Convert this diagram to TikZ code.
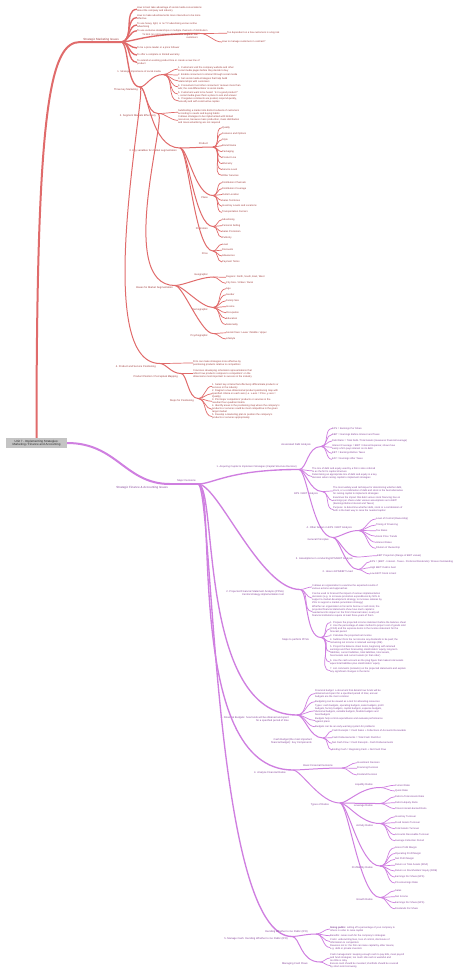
\documentclass[tikz,border=0pt]{standalone}
\usepackage{fontspec}
\setmainfont{Liberation Sans}
\definecolor{rl}{HTML}{E06B6B}
\definecolor{rt}{HTML}{9E3C3C}
\definecolor{pl}{HTML}{CF7FE0}
\definecolor{ptx}{HTML}{86469A}
\definecolor{rootfill}{HTML}{C4C4C4}
\newcommand\fnA{\fontsize{3}{3.5}\selectfont}
\newcommand\fnB{\fontsize{2.6}{3.1}\selectfont}
\newcommand\fnC{\fontsize{2.5}{3}\selectfont}
\def\tc{rt}\def\lc{rl}
\tikzset{
 leaf/.style={anchor=west,inner sep=0pt,font=\fnC,align=left,text=\tc},
 inl/.style={anchor=east,inner sep=0pt,font=\fnB,align=right,text=\tc},
 l0/.style={draw=\lc,line width=2pt},
 l1/.style={draw=\lc,line width=1.35pt},
 l2/.style={draw=\lc,line width=1pt},
 l3/.style={draw=\lc,line width=0.7pt},
}
\newcommand\lfx[6][l3]{\node[leaf] (#2) at (#4,#5) {#6};\draw[#1] (#3) to[out=0,in=180] (#2.west);}
\begin{document}
\begin{tikzpicture}[x=1pt,y=-1pt]
\useasboundingbox (0,0) rectangle (474,975);
\node[fill=rootfill,inner sep=0pt,minimum width=61pt,minimum height=10pt,font=\fnA,align=center,text=black!85] (root) at (36.5,443) {Unit 7 - Implementing Strategies:\\Marketing / Finance and Accounting};
% ================= RED =================
\coordinate (SMIs) at (80,42);
\coordinate (SMI) at (121,42);
\draw[l0] (root.north) .. controls +(0,-330) and +(-30,0) .. (SMIs) -- (SMI);
\node[inl,font=\fnA] (tSMI) at (119,40) {Strategic Marketing Issues};
\lfx[l1]{a1}{SMI}{137}{9.3}{How to best take advantage of social media conversations\\about the company and industry}
\lfx[l1]{a2}{SMI}{137}{17.5}{How to make advertisements more interactive to be more\\effective}
\lfx[l1]{a3}{SMI}{137}{25}{To use heavy, light, or no TV advertising versus online\\advertising}
\lfx[l1]{a4}{SMI}{137}{30.8}{To use exclusive dealerships or multiple channels of distribution}
\coordinate (A5) at (200,33.5);
\draw[l1] (SMI) .. controls +(12,0) and +(-55,0) .. (A5);
\node[inl,font=\fnC] (tA5) at (198,36.2) {To limit (or not) business done with a single or few\\customers};
\lfx{a5a}{A5}{227}{33.3}{Too dependent on a few customers is a big risk}
\lfx{a5b}{A5}{222}{42}{How to manage customers in contract?}
\lfx[l1]{a6}{SMI}{137}{48}{To be a price leader or a price follower}
\lfx[l1]{a7}{SMI}{137}{55}{To offer a complete or limited warranty}
\lfx[l1]{a8}{SMI}{137}{62.3}{To extend an existing product line or create a new line of\\product}
% Three key marketing
\coordinate (TKM) at (140,87);
\draw[l1] (SMI) .. controls +(8,0) and +(-14,0) .. (TKM);
\node[inl] (tTKM) at (138,89.5) {Three key Marketing};
% 1 social media
\coordinate (S1) at (163,74.5);
\draw[l2] (TKM) .. controls +(6,0) and +(-12,0) .. (S1);
\node[inl,font=\fnC] (tS1) at (161,72.2) {1. Strategic Importance of social media};
\lfx{s1}{S1}{178}{69}{1. Customers visit the company website and other\\social media pages before they decide to buy}
\lfx{s2}{S1}{178}{75}{2. Enable consumers to interact through social media}
\lfx{s3}{S1}{178}{80.8}{3. Set social media strategies that help build\\relationships with customers}
\lfx{s4}{S1}{178}{86.8}{4. Consumers trust other consumers' reviews more than\\ads; the real differentiator is social media}
\lfx{s5}{S1}{178}{94}{5. Customers want to be heard: `Is it a good product?'\\-- social media gives them a place to ask and answer}
\lfx{s6}{S1}{178}{100.8}{6. If negative comments are posted, respond quickly,\\honestly and with constructive replies}
% 2 segment
\coordinate (M2) at (158,113.5);
\draw[l2] (TKM) .. controls +(6,0) and +(-12,0) .. (M2);
\node[inl] (tM2) at (156,116.2) {2. Segment Markets Effectively};
\lfx{m1}{M2}{178}{112.3}{Subdividing a market into distinct subsets of customers\\according to needs and buying habits}
\lfx{m2}{M2}{178}{120.3}{It allows strategies to be implemented with limited\\resources, because mass production, mass distribution\\and mass advertising are not required}
% 3 key variables
\coordinate (K3) at (180,148);
\draw[l2] (TKM) .. controls +(8,0) and +(-30,0) .. (K3);
\node[inl] (tK3) at (177,150.4) {3. Key variables for market segmentation};
\coordinate (PRD) at (213,147);
\draw[l2] (K3) .. controls +(8,0) and +(-10,0) .. (PRD);
\node[inl] (tPRD) at (208,143.5) {Product};
\lfx{pd1}{PRD}{222}{127.7}{Quality}
\lfx{pd2}{PRD}{222}{133.7}{Features and Options}
\lfx{pd3}{PRD}{222}{139.7}{Style}
\lfx{pd4}{PRD}{222}{145.7}{Brand Name}
\lfx{pd5}{PRD}{222}{151.7}{Packaging}
\lfx{pd6}{PRD}{222}{157.6}{Product Line}
\lfx{pd7}{PRD}{222}{163.6}{Warranty}
\lfx{pd8}{PRD}{222}{169.5}{Service Level}
\lfx{pd9}{PRD}{222}{175.4}{Other Services}
\coordinate (PLC) at (213,195.5);
\draw[l2] (K3) .. controls +(8,0) and +(-18,0) .. (PLC);
\node[inl] (tPLC) at (208,198) {Place};
\lfx{pl1}{PLC}{222}{182.7}{Distribution Channels}
\lfx{pl2}{PLC}{222}{188.6}{Distribution Coverage}
\lfx{pl3}{PLC}{222}{194.5}{Outlet Location}
\lfx{pl4}{PLC}{222}{200.4}{Sales Territories}
\lfx{pl5}{PLC}{222}{206.3}{Inventory Levels and Locations}
\lfx{pl6}{PLC}{222}{212.3}{Transportation Carriers}
\coordinate (PRM) at (213,226.5);
\draw[l2] (K3) .. controls +(8,0) and +(-18,0) .. (PRM);
\node[inl] (tPRM) at (208,229) {Promotion};
\lfx{pm1}{PRM}{222}{219.7}{Advertising}
\lfx{pm2}{PRM}{222}{225.6}{Personal Selling}
\lfx{pm3}{PRM}{222}{231.5}{Sales Promotion}
\lfx{pm4}{PRM}{222}{237.4}{Publicity}
\coordinate (PRC) at (213,251);
\draw[l2] (K3) .. controls +(8,0) and +(-18,0) .. (PRC);
\node[inl] (tPRC) at (208,253.5) {Price};
\lfx{pc1}{PRC}{222}{244.2}{Level}
\lfx{pc2}{PRC}{222}{250.1}{Discounts}
\lfx{pc3}{PRC}{222}{256}{Allowances}
\lfx{pc4}{PRC}{222}{262}{Payment Terms}
% bases
\coordinate (BMS) at (175,285.5);
\draw[l2] (M2) .. controls +(10,0) and +(-60,0) .. (BMS);
\node[inl] (tBMS) at (173,288) {Bases for Market Segmentation};
\coordinate (GEO) at (213,277);
\draw[l2] (BMS) .. controls +(8,0) and +(-12,0) .. (GEO);
\node[inl] (tGEO) at (208,274.5) {Geographic};
\lfx{ge1}{GEO}{226}{277.3}{Regions: North, South, East, West}
\lfx{ge2}{GEO}{226}{283.3}{City Size / Urban / Rural}
\coordinate (DEM) at (213,307.5);
\draw[l2] (BMS) .. controls +(8,0) and +(-12,0) .. (DEM);
\node[inl] (tDEM) at (208,310.3) {Demographic};
\lfx{de1}{DEM}{226}{288.7}{Age}
\lfx{de2}{DEM}{226}{294.8}{Gender}
\lfx{de3}{DEM}{226}{300.8}{Family Size}
\lfx{de4}{DEM}{226}{306.7}{Income}
\lfx{de5}{DEM}{226}{312.7}{Occupation}
\lfx{de6}{DEM}{226}{318.6}{Education}
\lfx{de7}{DEM}{226}{324.5}{Nationality}
\coordinate (PSY) at (213,333.5);
\draw[l2] (BMS) .. controls +(8,0) and +(-12,0) .. (PSY);
\node[inl] (tPSY) at (208,336) {Psychographic};
\lfx{ps1}{PSY}{226}{332.8}{Social Class: Lower / Middle / Upper}
\lfx{ps2}{PSY}{226}{339}{Lifestyle}
% 4 positioning
\coordinate (F4) at (160,363.5);
\draw[l2] (TKM) .. controls +(8,0) and +(-70,0) .. (F4);
\node[inl] (tF4) at (156,366.8) {4. Product and Service Positioning};
\lfx{f1}{F4}{193}{363}{Firm can make strategies more effective by\\positioning products relative to competitors}
\coordinate (PPM) at (181,373.5);
\draw[l2] (F4) .. controls +(6,0) and +(-10,0) .. (PPM);
\node[inl] (tPPM) at (178,376.7) {Product Position / Perceptual Mapping};
\lfx{pp1}{PPM}{193}{373.5}{It involves developing schematic representations that\\reflect how products compare to competitors' on the\\dimensions most important to success in the industry}
\coordinate (STP) at (198,398.5);
\draw[l2] (PPM) .. controls +(6,0) and +(-10,0) .. (STP);
\node[inl] (tSTP) at (194,401) {Steps for Positioning};
\lfx{q1}{STP}{212}{386.3}{1. Select key criteria that effectively differentiate products or\\services in the industry}
\lfx{q2}{STP}{212}{393.7}{2. Diagram a two-dimensional product-positioning map with\\specified criteria on each axis (i.e. x-axis = Price, y-axis =\\Quality)}
\lfx{q3}{STP}{212}{401.3}{3. Plot major competitors' products or services in the\\resultant four-quadrant matrix}
\lfx{q4}{STP}{212}{409.3}{4. Identify areas in the positioning map where the company's\\products or services could be most competitive in the given\\target market}
\lfx{q5}{STP}{212}{416.5}{5. Develop a marketing plan to position the company's\\products or services appropriately}
% ================= PURPLE =================
\def\tc{ptx}\def\lc{pl}
\coordinate (SFA) at (170,484);
\draw[l0] (root.east) .. controls +(50,0) and +(-45,0) .. (SFA);
\node[inl,font=\fnA] (tSFA) at (168,488) {Strategic Finance \& Accounting Issues};
\coordinate (MD) at (198,484);
\draw[l1] (SFA) -- (MD);
\node[inl] (tMD) at (196,481) {Major Decisions};
% P1
\coordinate (P1) at (299,469.5);
\draw[l1] (MD) .. controls +(15,0) and +(-70,0) .. (P1);
\node[inl,font=\fnC] (tP1) at (297,467) {1. Acquiring Capital to Implement Strategies (Capital Structure Decision)};
\coordinate (ASD) at (321,446.5);
\draw[l2] (P1) .. controls +(8,0) and +(-14,0) .. (ASD);
\node[inl] (tASD) at (311,444.5) {Associated Debt Analysis};
\lfx{t1}{ASD}{332}{428.5}{EPS = Earnings Per Share}
\lfx{t2}{ASD}{332}{434.5}{EBIT = Earnings Before Interest and Taxes}
\lfx{t3}{ASD}{332}{441}{Debt Ratio = Total Debt / Total Assets (measures financial leverage)}
\lfx{t4}{ASD}{332}{447.2}{Interest Coverage = EBIT / Interest Expense; shows how\\easily a firm pays interest on its debt}
\lfx{t5}{ASD}{332}{453.3}{EBT = Earnings Before Taxes}
\lfx{t6}{ASD}{332}{459.3}{EAT = Earnings After Taxes}
\lfx{c2}{P1}{312}{470.8}{The mix of debt and equity used by a firm is also referred\\to as the firm's capital structure}
\lfx{c3}{P1}{312}{476.5}{Determining an appropriate mix of debt and equity is a key\\decision when raising capital to implement strategies}
\coordinate (EPS) at (322,491.5);
\draw[l2] (P1) .. controls +(6,0) and +(-12,0) .. (EPS);
\node[inl] (tEPS) at (318,493.5) {EPS / EBIT Analysis};
\lfx{e1}{EPS}{333}{491}{The most widely used technique for determining whether debt,\\stock, or a combination of debt and stock is the best alternative\\for raising capital to implement strategies}
\lfx{e2}{EPS}{333}{500.8}{Examines the impact that debt versus stock financing has on\\earnings per share under various assumptions as to EBIT\\(Earnings Before Interest and Taxes)}
\lfx{e3}{EPS}{333}{509.5}{Purpose: to determine whether debt, stock or a combination of\\both is the best way to raise the needed capital}
\coordinate (GEN) at (333,537.5);
\draw[l2] (P1) .. controls +(8,0) and +(-20,0) .. (GEN);
\node[inl] (tGEN) at (329,539.7) {General Principles};
\coordinate (FAC) at (358,530.5);
\draw[l2] (GEN) .. controls +(6,0) and +(-10,0) .. (FAC);
\node[inl] (tFAC) at (352,527.8) {4. Other factors in EPS / EBIT Analysis};
\lfx{fa1}{FAC}{376}{519}{Level of Control (Ownership)}
\lfx{fa2}{FAC}{376}{525}{Timing of Financing}
\lfx{fa3}{FAC}{376}{530.7}{Tax Rates}
\lfx{fa4}{FAC}{376}{536.3}{Stock Price Trends}
\lfx{fa5}{FAC}{376}{542.3}{Interest Rates}
\lfx{fa6}{FAC}{376}{548.3}{Dilution of Ownership}
\coordinate (AS3) at (357,557);
\draw[l2] (GEN) .. controls +(6,0) and +(-12,0) .. (AS3);
\node[inl] (tAS3) at (353,559.3) {3. Assumptions in conducting EPS/EBIT Analysis};
\lfx{as1}{AS3}{377}{555.7}{EBIT Projection (Range of EBIT values)}
\coordinate (HOW) at (358,569.5);
\draw[l2] (GEN) .. controls +(6,0) and +(-12,0) .. (HOW);
\node[inl] (tHOW) at (353,571.7) {2. How is EPS/EBIT Used};
\lfx{w1}{HOW}{370}{561.7}{EPS = (EBIT - Interest - Taxes - Preferred Dividends) / Shares Outstanding}
\lfx{w2}{HOW}{370}{567.7}{High EBIT: Debt is best}
\lfx{w3}{HOW}{370}{574}{Low EBIT: Stock is best}
% P2
\coordinate (P2) at (300,589.5);
\draw[l1] (MD) .. controls +(20,0) and +(-40,0) .. (P2);
\node[inl] (tP2) at (284,593) {2. Projected Financial Statement Analysis (PFSA)\\Central strategy-implementation tool};
\lfx{d1}{P2}{312}{587}{It allows an organization to examine the expected results of\\various actions and approaches}
\lfx{d2}{P2}{312}{598}{Can be used to forecast the impact of various implementation\\decisions (e.g. to increase promotion expenditures by 50\% to\\support a market-development strategy, to increase salaries by\\25\% to support a market-penetration strategy)}
\lfx{d3}{P2}{312}{611.5}{Whether an organization is forced to borrow or sell stock, the\\projected financial statements show how much capital is\\needed and its impact on the firm's financial ratios; nearly all\\financial institutions require at least three years of them}
\coordinate (ST7) at (321,637.5);
\draw[l2] (P2) .. controls +(8,0) and +(-16,0) .. (ST7);
\node[inl] (tST7) at (309,639.5) {Steps to perform PFSA};
\lfx{k1}{ST7}{330}{622.7}{1. Prepare the projected income statement before the balance sheet}
\lfx{k2}{ST7}{330}{628.7}{2. Use the percentage-of-sales method to project cost of goods sold\\(CGS) and the expense items in the income statement for the\\forecast period}
\lfx{k3}{ST7}{330}{635.7}{3. Calculate the projected net income}
\lfx{k4}{ST7}{330}{641.8}{4. Subtract from the net income any dividends to be paid; the\\remaining net income is retained earnings (RE)}
\lfx{k5}{ST7}{330}{651.5}{5. Project the balance sheet items, beginning with retained\\earnings and then forecasting stockholders' equity, long-term\\liabilities, current liabilities, total liabilities, total assets,\\fixed assets and current assets (in that order)}
\lfx{k6}{ST7}{330}{662}{6. Use the cash account as the plug figure that makes total assets\\equal total liabilities plus stockholders' equity}
\lfx{k7}{ST7}{330}{670.5}{7. List comments (remarks) on the projected statements and explain\\any significant changes in the items}
% P3
\coordinate (P3) at (297,715);
\draw[l1] (MD) .. controls +(20,0) and +(-100,0) .. (P3);
\node[inl] (tP3) at (289,719.5) {3. Financial Budgets: how funds will be obtained and spent\\for a specified period of time};
\lfx{b1}{P3}{315}{693.5}{Financial budget: a document that details how funds will be\\obtained and spent for a specified period of time; annual\\budgets are the most common}
\lfx{b2}{P3}{315}{701.7}{Budgeting can be viewed as a tool for allocating resources}
\lfx{b3}{P3}{315}{710.8}{Types: cash budgets, operating budgets, sales budgets, profit\\budgets, factory budgets, capital budgets, expense budgets,\\divisional budgets, variable budgets, flexible budgets and\\fixed budgets}
\lfx{b4}{P3}{315}{720.5}{Budgets help control expenditures and evaluate performance\\against plans}
\lfx{b5}{P3}{315}{726.7}{Budgets can be an early-warning system for problems}
\coordinate (CB) at (323,738);
\draw[l2] (P3) .. controls +(8,0) and +(-14,0) .. (CB);
\node[inl] (tCB) at (312,741.5) {Cash Budget (the most important\\financial budget): Key Components};
\lfx{cb1}{CB}{332}{731}{Cash Receipts = Cash Sales + Collections of Accounts Receivable}
\lfx{cb2}{CB}{332}{737.7}{Cash Disbursements = Total Cash Paid Out}
\lfx{cb3}{CB}{332}{743.3}{Net Cash Flow = Cash Receipts - Cash Disbursements}
\lfx{cb4}{CB}{332}{750}{Ending Cash = Beginning Cash + Net Cash Flow}
% P4
\coordinate (P4) at (293,770);
\draw[l1] (MD) .. controls +(20,0) and +(-110,0) .. (P4);
\node[inl] (tP4) at (286,772.7) {4. Analyze Financial Ratios};
\coordinate (FRD) at (342,768);
\draw[l2] (P4) .. controls +(8,0) and +(-20,0) .. (FRD);
\node[inl] (tFRD) at (333,765.7) {Basic Financial Decisions};
\lfx{fr1}{FRD}{357}{762.7}{Investment Decision}
\lfx{fr2}{FRD}{357}{768.3}{Financing Decision}
\lfx{fr3}{FRD}{357}{775}{Dividend Decision}
\coordinate (TFR) at (340,803);
\draw[l2] (P4) .. controls +(8,0) and +(-20,0) .. (TFR);
\node[inl] (tTFR) at (329,805.2) {Types of Ratios};
\coordinate (LQ) at (380,787.5);
\draw[l2] (TFR) .. controls +(8,0) and +(-20,0) .. (LQ);
\node[inl] (tLQ) at (373,785.3) {Liquidity Ratios};
\lfx{lq1}{LQ}{395}{785.2}{Current Ratio}
\lfx{lq2}{LQ}{395}{791}{Quick Ratio}
\coordinate (LV) at (380,803.5);
\draw[l2] (TFR) .. controls +(8,0) and +(-20,0) .. (LV);
\node[inl] (tLV) at (373,805.8) {Leverage Ratios};
\lfx{lv1}{LV}{395}{796.7}{Debt-to-Total-Assets Ratio}
\lfx{lv2}{LV}{395}{802.7}{Debt-to-Equity Ratio}
\lfx{lv3}{LV}{395}{808.7}{Times-Interest-Earned Ratio}
\coordinate (AC) at (380,823.5);
\draw[l2] (TFR) .. controls +(8,0) and +(-20,0) .. (AC);
\node[inl] (tAC) at (373,825.8) {Activity Ratios};
\lfx{ac1}{AC}{395}{816.7}{Inventory Turnover}
\lfx{ac2}{AC}{395}{822.7}{Fixed Assets Turnover}
\lfx{ac3}{AC}{395}{828.7}{Total Assets Turnover}
\lfx{ac4}{AC}{395}{834.7}{Accounts Receivable Turnover}
\lfx{ac5}{AC}{395}{840.7}{Average Collection Period}
\coordinate (PR) at (380,866);
\draw[l2] (TFR) .. controls +(8,0) and +(-20,0) .. (PR);
\node[inl] (tPR) at (373,868.3) {Profitability Ratios};
\lfx{pr1}{PR}{395}{847.7}{Gross Profit Margin}
\lfx{pr2}{PR}{395}{853.5}{Operating Profit Margin}
\lfx{pr3}{PR}{395}{859.3}{Net Profit Margin}
\lfx{pr4}{PR}{395}{865.2}{Return on Total Assets (ROA)}
\lfx{pr5}{PR}{395}{871}{Return on Stockholders' Equity (ROE)}
\lfx{pr6}{PR}{395}{877}{Earnings Per Share (EPS)}
\lfx{pr7}{PR}{395}{883}{Price-Earnings Ratio}
\coordinate (GR) at (380,897.5);
\draw[l2] (TFR) .. controls +(8,0) and +(-20,0) .. (GR);
\node[inl] (tGR) at (373,900) {Growth Ratios};
\lfx{gr1}{GR}{395}{890.7}{Sales}
\lfx{gr2}{GR}{395}{896.7}{Net Income}
\lfx{gr3}{GR}{395}{902.7}{Earnings Per Share (EPS)}
\lfx{gr4}{GR}{395}{908.7}{Dividends Per Share}
% P5
\coordinate (P5) at (292,936.5);
\draw[l1] (MD) .. controls +(15,0) and +(-80,0) .. (P5);
\node[inl] (tP5) at (288,939.2) {5. Manage Cash: Deciding Whether to Go Public (IPO)};
\coordinate (DW) at (316,934);
\draw[l2] (P5) .. controls +(6,0) and +(-10,0) .. (DW);
\node[inl] (tDW) at (308,931.7) {Deciding Whether to Go Public (IPO)};
\lfx{g1}{DW}{330}{929}{\textbf{Going public}: selling off a percentage of your company to\\others in order to raise capital}
\lfx{g2}{DW}{330}{935.7}{Benefits: raises cash for the company's strategies}
\lfx{g3}{DW}{330}{941.5}{Costs: underwriting fees, loss of control, disclosure of\\information to competitors}
\lfx{g4}{DW}{330}{947.5}{Reasons not to: the firm can raise capital by other means,\\e.g. debt or private investors}
\coordinate (MC) at (320,962);
\draw[l2] (P5) .. controls +(8,0) and +(-20,0) .. (MC);
\node[inl] (tMC) at (308,964.3) {Managing Cash Flows};
\lfx{h1}{MC}{330}{958}{Cash management: keeping enough cash to pay bills, meet payroll\\and fund strategies; too much idle cash is wasteful and\\too little is risky}
\lfx{h2}{MC}{330}{965.5}{Excess cash should be invested; shortfalls should be covered\\by short-term borrowing}
\end{tikzpicture}
\end{document}
